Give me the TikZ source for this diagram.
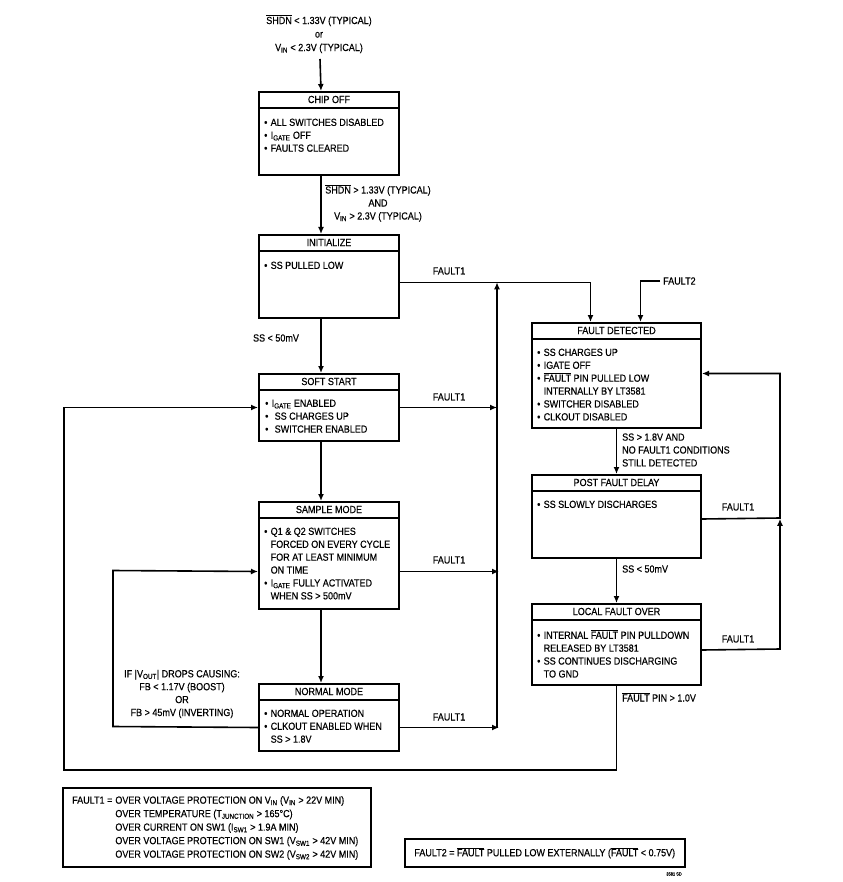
\documentclass[tikz,border=0pt]{standalone}
\usepackage{fontspec}
\setmainfont{Liberation Sans}[FakeStretch=0.875,FakeBold=0.4]
\usetikzlibrary{arrows.meta}
\newcommand\ovl[1]{$\overline{\mbox{#1}}$}
\newcommand\bul{\makebox[6.5pt][l]{•}}
\newcommand\ind{\hspace*{6.5pt}}
\newcommand\subs[1]{\textsubscript{#1}}
\begin{document}
\begin{tikzpicture}[x=1pt,y=-1pt,
  every node/.style={font=\fontsize{10.3}{12.9}\selectfont, inner sep=0pt},
  sbox/.style={draw, line width=2pt, anchor=north west},
  legbox/.style={draw, line width=1.5pt, anchor=north west},
  arr/.style={-{Latex[length=7pt,width=6pt]}, line width=1.6pt},
  divl/.style={line width=1.3pt},
  body/.style={anchor=north west, align=left},
  lbl/.style={anchor=center}]
\fill[white] (0,0) rectangle (842,882);
\useasboundingbox (0,0) rectangle (842,882);

% ---- state boxes ----
\node[sbox, minimum width=140pt, minimum height=83pt] (chip) at (258,91) {};
\node[sbox, minimum width=140pt, minimum height=83pt] (init) at (258,234) {};
\node[sbox, minimum width=140pt, minimum height=67pt] (soft) at (258,373) {};
\node[sbox, minimum width=140pt, minimum height=107pt] (sample) at (258,501) {};
\node[sbox, minimum width=140pt, minimum height=67pt] (normal) at (258,683) {};
\node[sbox, minimum width=169pt, minimum height=105pt] (fd) at (531,322) {};
\node[sbox, minimum width=169pt, minimum height=83pt] (pfd) at (531,474) {};
\node[sbox, minimum width=169pt, minimum height=81pt] (lfo) at (531,603) {};

\foreach \b in {chip,init,soft,sample,normal,fd,pfd,lfo}
  \draw[divl] ([yshift=-17pt]\b.north west) -- ([yshift=-17pt]\b.north east);

\node (chipt) at ([yshift=-8.5pt]chip.north) {CHIP OFF};
\node (initt) at ([yshift=-8.5pt]init.north) {INITIALIZE};
\node (softt) at ([yshift=-8.5pt]soft.north) {SOFT START};
\node (samplet) at ([yshift=-8.5pt]sample.north) {SAMPLE MODE};
\node (normalt) at ([yshift=-8.5pt]normal.north) {NORMAL MODE};
\node (fdt) at ([yshift=-8.5pt]fd.north) {FAULT DETECTED};
\node (pfdt) at ([yshift=-8.5pt]pfd.north) {POST FAULT DELAY};
\node (lfot) at ([yshift=-8.5pt]lfo.north) {LOCAL FAULT OVER};

\node[body] (chipb) at (264,118.5) {\bul ALL SWITCHES DISABLED\\\bul I\subs{GATE} OFF\\\bul FAULTS CLEARED};
\node[body] (initb) at (264,261.5) {\bul SS PULLED LOW};
\node[body] (softb) at (265,399.5) {\bul I\subs{GATE} ENABLED\\\bul\hspace*{3pt}SS CHARGES UP\\\bul\hspace*{3pt}SWITCHER ENABLED};
\node[body] (sampleb) at (264,527.5) {\bul Q1 \& Q2 SWITCHES\\\ind FORCED ON EVERY CYCLE\\\ind FOR AT LEAST MINIMUM\\\ind ON TIME\\\bul I\subs{GATE} FULLY ACTIVATED\\\ind WHEN SS > 500mV};
\node[body] (normalb) at (264,709.5) {\bul NORMAL OPERATION\\\bul CLKOUT ENABLED WHEN\\\ind SS > 1.8V};
\node[body] (fdb) at (537,348.5) {\bul SS CHARGES UP\\\bul IGATE OFF\\\bul \ovl{FAULT} PIN PULLED LOW\\\ind INTERNALLY BY LT3581\\\bul SWITCHER DISABLED\\\bul CLKOUT DISABLED};
\node[body] (pfdb) at (537,500.5) {\bul SS SLOWLY DISCHARGES};
\node[body] (lfob) at (537,629.5) {\bul INTERNAL \ovl{FAULT} PIN PULLDOWN\\\ind RELEASED BY LT3581\\\bul SS CONTINUES DISCHARGING\\\ind TO GND};

% ---- labels ----
\node[align=center, font=\fontsize{10.3}{13.5}\selectfont] (toplbl) at (319,34) {\ovl{SHDN} < 1.33V (TYPICAL)\\or\\V\subs{IN} < 2.3V (TYPICAL)};
\node[align=center, font=\fontsize{10.3}{13}\selectfont] (onlbl) at (378,203) {\ovl{SHDN} > 1.33V (TYPICAL)\\AND\\V\subs{IN} > 2.3V (TYPICAL)};
\node (ss1) at (276,338) {SS < 50mV};
\node (f1a) at (449,271) {FAULT1};
\node (f1b) at (449,397) {FAULT1};
\node (f1c) at (449,560) {FAULT1};
\node (f1d) at (449,717) {FAULT1};
\node (f1e) at (738,507) {FAULT1};
\node (f1f) at (738,639) {FAULT1};
\node[anchor=west, inner sep=3pt] (f2) at (660,281) {FAULT2};
\node[anchor=west, align=left] (ssand) at (622,450) {SS > 1.8V AND\\NO FAULT1 CONDITIONS\\STILL DETECTED};
\node[anchor=west] (ss2) at (622,569) {SS < 50mV};
\node[anchor=west] (fpin) at (622,697) {\ovl{FAULT} PIN > 1.0V};
\node[align=center] (vout) at (182,694) {IF |V\subs{OUT}| DROPS CAUSING:\\FB < 1.17V (BOOST)\\OR\\FB > 45mV (INVERTING)};

% ---- connectors ----
\coordinate (in0) at (320,59);
\draw[arr] (in0) -- ([xshift=-8pt]chip.north);
\draw[arr] ([xshift=-8pt]chip.south) -- ([xshift=-8pt]init.north);
\draw[arr] ([xshift=-8pt]init.south) -- ([xshift=-8pt]soft.north);
\draw[arr] ([xshift=-8pt]soft.south) -- ([xshift=-8pt]sample.north);
\draw[arr] ([xshift=-8pt]sample.south) -- ([xshift=-8pt]normal.north);

\draw[arr] ([yshift=-6pt]init.east) -| ([xshift=-26pt]fd.north);
\coordinate (busb) at (497,727);
\coordinate (bust) at (497,282.3);
\draw[arr] (busb) -- (bust);
\draw[arr] (soft.east) -- (soft.east -| busb);
\draw[arr] ([yshift=-16pt]sample.east) -- ++(99,0);
\draw[arr] ([yshift=-10pt]normal.east) -- ++(99,0);

\coordinate (il1) at (113,726.5);
\coordinate (il2) at (113,570.5);
\draw[arr] ([yshift=-10pt]normal.west) -- (il1) -- (il2) -- ([yshift=-16pt]sample.west);

\coordinate (ol) at (64,770);
\draw[arr] (lfo.south) |- (ol) |- (soft.west);

\draw[arr] (fd.south) -- (pfd.north);
\draw[arr] (pfd.south) -- (lfo.north);

\coordinate (rb1) at (780,518);
\coordinate (rb2) at (780,649);
\draw[arr] ([yshift=-2.5pt]pfd.east) -- (rb1) |- ([yshift=2pt]fd.east);
\draw[arr] ([yshift=-5.5pt]lfo.east) -- (rb2) -- ([yshift=-0.8pt]rb1);
\draw[arr] (f2.west) -| ([xshift=24pt]fd.north);

% ---- legends ----
\node[legbox, minimum width=308pt, minimum height=79pt] (leg1) at (62,787) {};
\node[anchor=north west, font=\fontsize{10.3}{13.5}\selectfont] (leg1t) at (72,794) {\begin{tabular}{@{}l@{\hspace{3pt}}l@{}}FAULT1 = & OVER VOLTAGE PROTECTION ON V\subs{IN} (V\subs{IN} > 22V MIN)\\ & OVER TEMPERATURE (T\subs{JUNCTION} > 165°C)\\ & OVER CURRENT ON SW1 (I\subs{SW1} > 1.9A MIN)\\ & OVER VOLTAGE PROTECTION ON SW1 (V\subs{SW1} > 42V MIN)\\ & OVER VOLTAGE PROTECTION ON SW2 (V\subs{SW2} > 42V MIN)\end{tabular}};
\node[legbox, minimum width=280pt, minimum height=28pt] (leg2) at (404,838) {};
\node (leg2t) at (leg2.center) {FAULT2 = \ovl{FAULT} PULLED LOW EXTERNALLY (\ovl{FAULT} < 0.75V)};
\node[font=\fontsize{4.5}{5}\selectfont] (code) at (674,874) {3581 SD};
\end{tikzpicture}
\end{document}
